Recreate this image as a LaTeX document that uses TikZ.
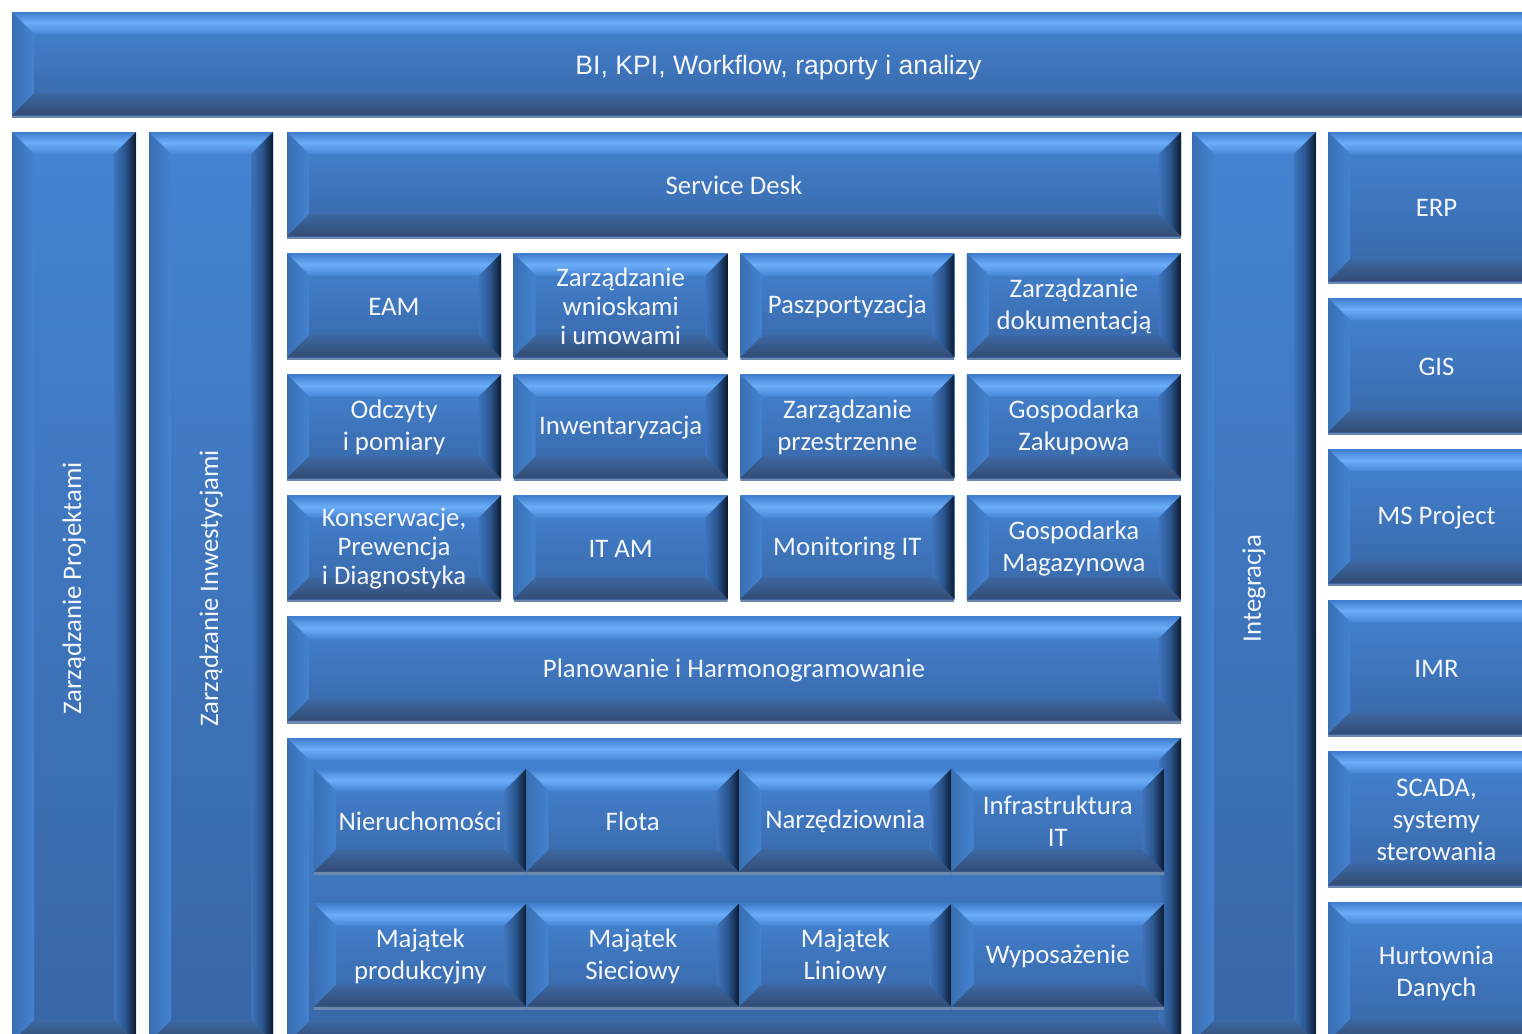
\documentclass[tikz,border=0pt]{standalone}
\usepackage{fontspec}
\setmainfont{Carlito}
\newfontfamily\titlefont{Liberation Sans}
\usetikzlibrary{positioning}
\definecolor{boxtext}{HTML}{F4F6FA}
\definecolor{bvmidA}{HTML}{4484D2}
\definecolor{bvmidB}{HTML}{3866A6}
\definecolor{bvtopA}{HTML}{3F7DCC}
\definecolor{bvtopB}{HTML}{6BADF8}
\definecolor{bvtopC}{HTML}{4886D6}
\definecolor{bvbotA}{HTML}{3D68A2}
\definecolor{bvbotB}{HTML}{324C74}
\definecolor{bvlftA}{HTML}{3A6FB3}
\definecolor{bvlftB}{HTML}{4483D0}
\definecolor{bvrgtA}{HTML}{3E74BB}
\definecolor{bvrgtB}{HTML}{2B5690}
\definecolor{bvrgtC}{HTML}{0C1A2E}
\definecolor{bvshadow}{HTML}{6E88AB}

\newcommand{\bvW}{11pt}
\newcommand{\bvS}{1.5pt}
% bevel painting for every box
\newcommand{\bevelpaint}{%
  \pgfpointanchor{path picture bounding box}{south west}\pgfgetlastxy{\bvL}{\bvB}%
  \pgfpointanchor{path picture bounding box}{north east}\pgfgetlastxy{\bvR}{\bvT}%
  \fill[bvshadow] (\bvL,\bvB) rectangle (\bvR,\bvT);
  \shade[top color=bvmidA, bottom color=bvmidB] (\bvL,\bvB+\bvS) rectangle (\bvR,\bvT);
  \shade[top color=bvtopA, bottom color=bvtopC, middle color=bvtopB]
    (\bvL,\bvT) -- (\bvR,\bvT) -- (\bvR-\bvW,\bvT-\bvW) -- (\bvL+\bvW,\bvT-\bvW) -- cycle;
  \shade[top color=bvbotA, bottom color=bvbotB]
    (\bvL,\bvB+\bvS) -- (\bvR,\bvB+\bvS) -- (\bvR-\bvW,\bvB+\bvS+\bvW) -- (\bvL+\bvW,\bvB+\bvS+\bvW) -- cycle;
  \shade[left color=bvlftA, right color=bvlftB]
    (\bvL,\bvT) -- (\bvL+\bvW,\bvT-\bvW) -- (\bvL+\bvW,\bvB+\bvS+\bvW) -- (\bvL,\bvB+\bvS) -- cycle;
  \shade[left color=bvrgtA, right color=bvrgtC, middle color=bvrgtB]
    (\bvR,\bvT) -- (\bvR-\bvW,\bvT-\bvW) -- (\bvR-\bvW,\bvB+\bvS+\bvW) -- (\bvR,\bvB+\bvS) -- cycle;
}

\begin{document}
\begin{tikzpicture}[
    x=0.5pt, y=-0.5pt,
    bevelbox/.style={rectangle, inner sep=0pt, outer sep=0pt, align=center, text=boxtext, font=\fontsize{13.4pt}{16pt}\selectfont, path picture={\bevelpaint}},
    widebox/.style={bevelbox, minimum width=447pt, minimum height=53.5pt},
    cellbox/.style={bevelbox, minimum width=107pt, minimum height=53.25pt},
    innerbox/.style={bevelbox, minimum width=106.25pt, minimum height=53pt},
    pillar/.style={bevelbox, minimum width=62pt, minimum height=456.5pt, anchor=north west},
    sidebox/.style={bevelbox, minimum width=108.5pt},
    tightlines/.style={font=\fontsize{13.4pt}{14.5pt}\selectfont},
    uplabel/.style={rotate=90, text=boxtext, font=\fontsize{13.4pt}{16pt}\selectfont}
]
\useasboundingbox (0,0) rectangle (1522,1034);
\clip (0,0) rectangle (1522,1034);

% Top bar
\node[bevelbox, minimum width=766.5pt, minimum height=53pt, text depth=0pt, font=\titlefont\fontsize{13.3pt}{15pt}\selectfont] (bi) at (778.5,65) {BI, KPI, Workflow, raporty i analizy};

% Pillars
\node[pillar, label={[uplabel]center:Zarządzanie Projektami}] (projekty) at (12,132) {};
\node[pillar, label={[uplabel]center:Zarządzanie Inwestycjami}] (inwest) at (149,132) {};
\node[pillar, label={[uplabel]center:Integracja}] (integr) at (1192,132) {};

% Middle grid
\node[widebox, anchor=north west] (service) at (287,132) {Service Desk};

\node[cellbox, below=7.25pt of service.south west, anchor=north west] (eam) {EAM};
\node[cellbox, tightlines, right=6.33pt of eam] (wnioski) {Zarządzanie\\wnioskami\\i umowami};
\node[cellbox, right=6.33pt of wnioski] (paszport) {Paszportyzacja};
\node[cellbox, right=6.33pt of paszport] (dokument) {Zarządzanie\\dokumentacją};

\node[cellbox, below=7.25pt of eam] (odczyty) {Odczyty\\i pomiary};
\node[cellbox, right=6.33pt of odczyty] (inwent) {Inwentaryzacja};
\node[cellbox, right=6.33pt of inwent] (przestrz) {Zarządzanie\\przestrzenne};
\node[cellbox, right=6.33pt of przestrz] (zakupy) {Gospodarka\\Zakupowa};

\node[cellbox, tightlines, below=7.25pt of odczyty] (konserw) {Konserwacje,\\Prewencja\\i Diagnostyka};
\node[cellbox, right=6.33pt of konserw] (itam) {IT AM};
\node[cellbox, right=6.33pt of itam] (monit) {Monitoring IT};
\node[cellbox, right=6.33pt of monit] (magazyn) {Gospodarka\\Magazynowa};

\node[widebox, below=7.25pt of konserw.south west, anchor=north west] (plan) {Planowanie i Harmonogramowanie};

% Asset container
\node[bevelbox, minimum width=447pt, minimum height=154pt, below=7.25pt of plan.south west, anchor=north west] (majatek) {};

\node[innerbox, below right=15.25pt and 13.5pt of majatek.north west] (nieruch) {Nieruchomości};
\node[innerbox, right=0pt of nieruch] (flota) {Flota};
\node[innerbox, right=0pt of flota] (narzedz) {Narzędziownia};
\node[innerbox, right=0pt of narzedz] (infra) {Infrastruktura\\IT};

\node[innerbox, below=14.5pt of nieruch.south west, anchor=north west] (produk) {Majątek\\produkcyjny};
\node[innerbox, right=0pt of produk] (siec) {Majątek\\Sieciowy};
\node[innerbox, right=0pt of siec] (linia) {Majątek\\Liniowy};
\node[innerbox, right=0pt of linia] (wypos) {Wyposażenie};

% Right side systems
\node[sidebox, minimum height=76pt, anchor=north west] (erp) at (1328,132) {ERP};
\node[sidebox, minimum height=68.5pt, below=7pt of erp] (gis) {GIS};
\node[sidebox, minimum height=68.5pt, below=7pt of gis] (msproj) {MS Project};
\node[sidebox, minimum height=68.5pt, below=7pt of msproj] (imr) {IMR};
\node[sidebox, minimum height=68.5pt, below=7pt of imr] (scada) {SCADA,\\systemy\\sterowania};
\node[sidebox, minimum height=71pt, below=7pt of scada] (hurt) {Hurtownia\\Danych};

\end{tikzpicture}
\end{document}
